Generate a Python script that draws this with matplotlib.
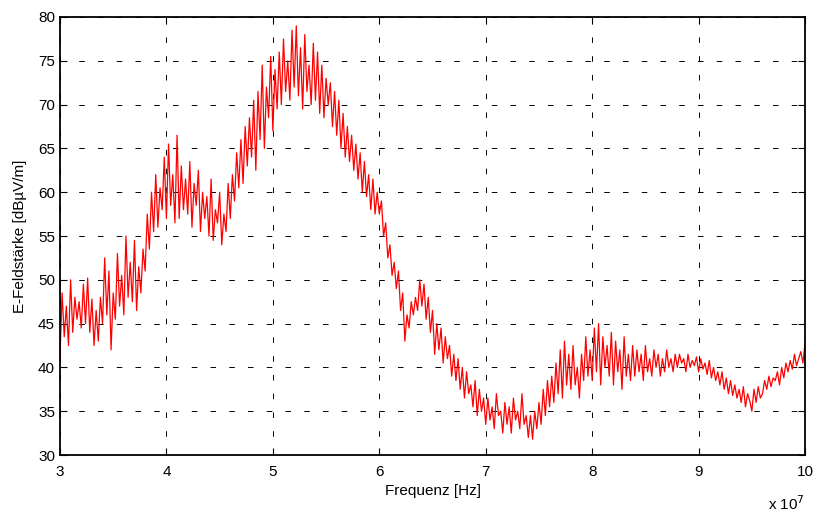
import matplotlib

matplotlib.use("Agg")

import matplotlib.pyplot as plt
import numpy as np

# Frequenzbereich in Einheiten von 1e7 Hz (gleichmäßig abgetastet)
f_start = 3.0
f_stop = 10.0

pegel = [
    41.0, 48.5, 43.5, 47.0, 42.5, 50.0, 44.0, 48.0, 45.5, 47.5,
    44.5, 49.5, 45.0, 50.2, 44.0, 47.8, 42.5, 46.5, 43.0, 48.0,
    45.0, 52.5, 46.0, 51.0, 42.0, 48.5, 45.5, 53.0, 47.0, 50.5,
    46.0, 55.0, 48.0, 52.0, 47.5, 54.5, 46.5, 51.5, 48.5, 53.5,
    51.0, 57.5, 53.5, 60.0, 55.5, 62.0, 56.0, 60.5, 58.0, 64.0,
    57.0, 65.5, 58.5, 62.0, 56.5, 66.5, 57.0, 63.0, 58.0, 61.5,
    57.5, 63.5, 56.0, 61.0, 58.5, 62.5, 55.5, 60.0, 57.0, 59.5,
    55.0, 61.5, 54.5, 58.0, 56.5, 60.0, 54.0, 57.5, 55.5, 61.0,
    57.0, 62.0, 59.0, 64.5, 60.5, 66.0, 61.0, 67.5, 63.0, 68.5,
    64.0, 70.5, 62.5, 71.5, 66.0, 74.5, 65.0, 72.0, 68.5, 75.5,
    67.0, 74.0, 69.5, 76.0, 70.0, 77.5, 71.5, 75.0, 70.5, 78.5,
    72.0, 79.0, 71.0, 76.5, 69.5, 78.0, 71.5, 74.5, 70.0, 77.0,
    70.5, 76.0, 69.0, 74.5, 68.5, 73.0, 70.0, 72.5, 67.5, 71.5,
    66.5, 70.5, 65.0, 69.0, 64.0, 67.5, 63.5, 66.5, 62.5, 65.5,
    61.5, 64.5, 60.0, 63.5, 59.5, 62.0, 58.0, 61.5, 57.5, 60.0,
    57.5, 59.0, 55.0, 56.5, 52.5, 54.0, 50.5, 52.0, 49.0, 51.0,
    46.5, 48.5, 43.0, 46.0, 44.5, 47.5, 46.0, 48.0, 46.5, 50.0,
    47.0, 49.5, 45.5, 48.0, 44.0, 46.5, 41.5, 45.0, 42.0, 44.5,
    40.5, 43.5, 41.0, 42.5, 39.0, 41.5, 38.5, 41.0, 37.5, 40.0,
    36.5, 39.5, 37.0, 38.0, 35.5, 38.5, 34.5, 37.5, 35.0, 36.5,
    33.5, 36.5, 34.0, 35.5, 33.0, 37.0, 34.5, 35.0, 32.5, 36.0,
    33.5, 35.5, 32.5, 36.5, 34.0, 35.0, 33.0, 37.0, 33.5, 34.5,
    32.0, 34.5, 31.8, 35.0, 33.0, 36.0, 33.5, 37.5, 34.5, 38.5,
    35.5, 39.0, 36.0, 40.5, 37.0, 42.0, 36.5, 43.0, 38.0, 41.5,
    37.5, 42.5, 38.0, 40.0, 36.5, 41.5, 38.5, 43.5, 39.0, 42.0,
    38.5, 44.5, 39.5, 45.0, 38.0, 43.5, 40.0, 42.5, 39.0, 44.0,
    38.0, 43.0, 39.5, 42.0, 37.5, 43.5, 39.0, 41.5, 38.5, 42.5,
    39.0, 42.0, 39.5, 41.5, 38.5, 42.5, 39.5, 41.0, 39.0, 42.0,
    40.0, 41.5, 39.0, 41.0, 39.5, 42.0, 40.0, 41.0, 39.5, 41.5,
    40.0, 41.5, 40.5, 41.0, 39.5, 41.5, 40.0, 40.8, 40.2, 41.2,
    39.5, 41.0, 39.8, 40.5, 39.2, 40.8, 38.8, 40.0, 38.5, 39.5,
    38.0, 39.5, 37.5, 38.8, 37.0, 38.5, 36.8, 38.0, 36.5, 37.5,
    36.0, 37.8, 35.5, 37.0, 36.2, 35.0, 37.5, 36.0, 37.8, 36.5,
    37.0, 38.5, 37.5, 39.0, 37.8, 38.8, 38.5, 39.5, 38.0, 40.0,
    38.8, 40.5, 39.5, 40.8, 39.8, 41.5, 40.2, 41.0, 41.8, 40.5,
    42.8,
]

x_ticks = [3, 4, 5, 6, 7, 8, 9, 10]
y_ticks = [30, 35, 40, 45, 50, 55, 60, 65, 70, 75, 80]

plt.rcParams["font.family"] = ["Liberation Sans", "DejaVu Sans"]
plt.rcParams["lines.scale_dashes"] = False

frequenz = np.linspace(f_start, f_stop, len(pegel))

fig = plt.figure(figsize=(8.17, 5.12), dpi=100)
ax = fig.add_axes([0.0734, 0.1113, 0.912, 0.8555])

ax.plot(frequenz, pegel, color="#ff0000", linewidth=0.9)

ax.set_xlim(3, 10)
ax.set_ylim(30, 80)
ax.set_xticks(x_ticks)
ax.set_yticks(y_ticks)
ax.tick_params(direction="in", top=True, right=True, labelsize=11, length=5, width=0.8)
ax.tick_params(axis="x", pad=7)
ax.grid(True, color="black", linestyle=(0, (4.0, 9.5)), linewidth=0.7)
for spine in ax.spines.values():
    spine.set_linewidth(1.3)

ax.set_xlabel("Frequenz [Hz]", fontsize=11, labelpad=4)
ax.set_ylabel("E-Feldstärke [dBµV/m]", fontsize=11, labelpad=8)
ax.text(1.0, -0.09, "x 10$^{7}$", transform=ax.transAxes, fontsize=11,
        ha="right", va="top")

fig.savefig("out.png", dpi=100)
